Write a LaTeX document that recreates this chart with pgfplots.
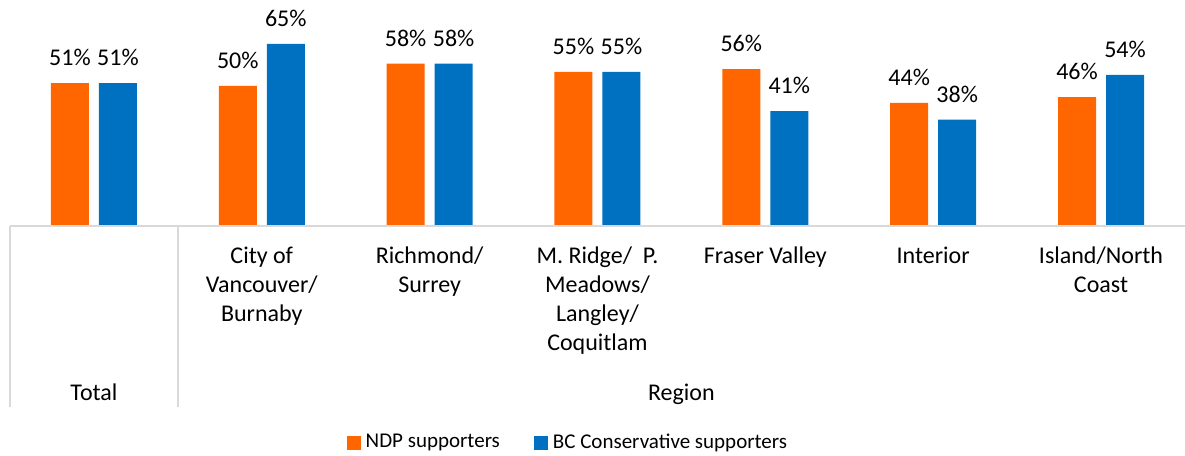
\documentclass[border=0pt]{standalone}
\usepackage{fontspec}
\setmainfont{Carlito}
\usepackage{pgfplots}
\pgfplotsset{compat=1.18}
\definecolor{ndp}{HTML}{FF6600}
\definecolor{bcc}{HTML}{0070C0}
\definecolor{axgray}{HTML}{D9D9D9}
\newcommand{\cfont}{\fontsize{24}{29}\selectfont}
\newcommand{\lfont}{\fontsize{21}{25}\selectfont}
\begin{document}
\cfont
\begin{tikzpicture}
\begin{axis}[
  scale only axis,
  width=1175pt, height=226pt,
  xmin=-0.5, xmax=6.5,
  ymin=0, ymax=80.7,
  axis lines=none,
  ybar=10pt, bar width=38pt,
  clip=false,
  font=\cfont,
  xtick={0,...,6},
  nodes near coords={\pgfmathprintnumber{\pgfplotspointmeta}\%},
  every node near coord/.append style={font=\cfont, anchor=south, inner sep=0pt, yshift=17pt, text=black},
  /pgf/number format/assume math mode=true,
  legend columns=2,
  legend style={draw=none, at={(0.474,0)}, anchor=center, yshift=-217pt,
    font=\lfont,
    nodes={inner sep=0pt},
    /tikz/every odd column/.append style={column sep=5pt},
    /tikz/every even column/.append style={column sep=34pt},
    cells={anchor=west}, inner sep=0pt},
]
\addplot[fill=ndp, draw=none,
  legend image code/.code={\fill[ndp] (0pt,-7pt) rectangle (14pt,7pt);}]
  coordinates {(0,51) (1,50) (2,58) (3,55) (4,56) (5,44) (6,46)};
\addlegendentry{NDP supporters}
\addplot[fill=bcc, draw=none,
  legend image code/.code={\fill[bcc] (0pt,-7pt) rectangle (14pt,7pt);}]
  coordinates {(0,51) (1,65) (2,58) (3,55) (4,41) (5,38) (6,54)};
\addlegendentry{BC Conservative supporters}
\coordinate (bl) at (axis cs:-0.5,0);
\draw[axgray, line width=1.5pt] (axis cs:-0.5,0) -- (axis cs:6.5,0);
\draw[axgray, line width=1.5pt] (axis cs:-0.5,0) -- ([yshift=-181pt]axis cs:-0.5,0);
\draw[axgray, line width=1.5pt] (axis cs:0.5,0) -- ([yshift=-181pt]axis cs:0.5,0);
\node[anchor=north, align=center, inner sep=0pt] at ([yshift=-21pt]axis cs:1,0) {City of\\Vancouver/\\Burnaby};
\node[anchor=north, align=center, inner sep=0pt] at ([yshift=-21pt]axis cs:2,0) {Richmond/\\Surrey};
\node[anchor=north, align=center, inner sep=0pt] at ([yshift=-21pt]axis cs:3,0) {M. Ridge/\ \ P.\\Meadows/\\Langley/\\Coquitlam};
\node[anchor=north, align=center, inner sep=0pt] at ([yshift=-21pt]axis cs:4,0) {Fraser Valley};
\node[anchor=north, align=center, inner sep=0pt] at ([yshift=-21pt]axis cs:5,0) {Interior};
\node[anchor=north, align=center, inner sep=0pt] at ([yshift=-21pt]axis cs:6,0) {Island/North\\Coast};
\node[anchor=base] at ([yshift=-174pt]axis cs:0,0) {Total};
\node[anchor=base] at ([yshift=-174pt]axis cs:3.5,0) {Region};
\end{axis}
\pgfresetboundingbox
\path[use as bounding box] ([shift={(-10pt,-229pt)}]bl) rectangle ([shift={(1175pt,226pt)}]bl);
\end{tikzpicture}
\end{document}
